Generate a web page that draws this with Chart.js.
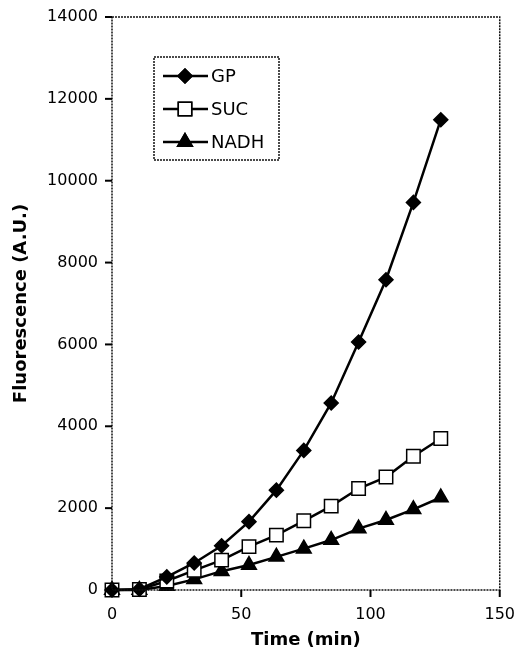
<!DOCTYPE html>
<html>
<head>
<meta charset="utf-8">
<script src="https://cdn.jsdelivr.net/npm/chart.js@4/dist/chart.umd.min.js"></script>
<style>
  html, body { margin: 0; padding: 0; background: #fff; }
  #wrap { width: 523px; height: 652px; }
</style>
</head>
<body>
<div id="wrap"><canvas id="chart" width="523" height="652"></canvas></div>
<script>
// values
const times = [0, 10.6, 21.2, 31.8, 42.4, 53, 63.6, 74.2, 84.8, 95.4, 106, 116.6, 127.2];
const gp = [0, 20, 320, 660, 1080, 1670, 2440, 3410, 4570, 6060, 7580, 9470, 11490];
const suc = [0, 10, 220, 480, 730, 1060, 1340, 1690, 2050, 2480, 2760, 3270, 3700];
const nadh = [0, 0, 100, 260, 460, 610, 810, 1010, 1220, 1500, 1710, 1970, 2260];
const seriesNames = ["GP", "SUC", "NADH"];

const xTicks = [0, 50, 100, 150];
const yTicks = [0, 2000, 4000, 6000, 8000, 10000, 12000, 14000];

const toPoints = (vals) => vals.map((v, i) => ({ x: times[i], y: v }));

const styles = [
  { pointStyle: 'rectRot', pointRadius: 7, pointBackgroundColor: '#000' },
  { pointStyle: 'rect', pointRadius: 9.5, pointBackgroundColor: '#fff' },
  { pointStyle: 'triangle', pointRadius: 8.5, pointBackgroundColor: '#000' }
];

const datasets = [gp, suc, nadh].map((vals, i) => ({
  label: seriesNames[i],
  data: toPoints(vals),
  showLine: true,
  borderColor: '#000',
  borderWidth: 2.5,
  tension: 0,
  pointBorderColor: '#000',
  pointBorderWidth: 1.5,
  clip: false,
  order: i + 1,
  ...styles[i]
}));

// frame, tick marks and the boxed legend
const framePlugin = {
  id: 'frame',
  afterDraw(chart) {
    const { ctx, chartArea: a, scales } = chart;
    ctx.save();
    ctx.strokeStyle = '#111';
    ctx.lineWidth = 1.5;
    ctx.setLineDash([2, 1]);
    ctx.strokeRect(a.left, a.top, a.right - a.left, a.bottom - a.top);

    // outward tick marks
    ctx.setLineDash([]);
    ctx.strokeStyle = '#000';
    ctx.lineWidth = 2;
    scales.y.ticks.forEach(t => {
      const y = scales.y.getPixelForValue(t.value);
      ctx.beginPath();
      ctx.moveTo(a.left - 7, y);
      ctx.lineTo(a.left, y);
      ctx.stroke();
    });
    scales.x.ticks.forEach(t => {
      const x = scales.x.getPixelForValue(t.value);
      ctx.beginPath();
      ctx.moveTo(x, a.bottom);
      ctx.lineTo(x, a.bottom + 7);
      ctx.stroke();
    });

    // legend box
    const bx = a.left + 42, by = a.top + 40, bw = 125, bh = 103;
    ctx.lineWidth = 1.5;
    ctx.setLineDash([2, 1]);
    ctx.fillStyle = '#fff';
    ctx.fillRect(bx, by, bw, bh);
    ctx.strokeStyle = '#111';
    ctx.strokeRect(bx, by, bw, bh);
    ctx.setLineDash([]);

    chart.data.datasets.forEach((ds, i) => {
      const y = by + 19 + i * 33;
      ctx.strokeStyle = '#000';
      ctx.lineWidth = 2.5;
      ctx.beginPath();
      ctx.moveTo(bx + 9, y);
      ctx.lineTo(bx + 54, y);
      ctx.stroke();
      ctx.fillStyle = ds.pointBackgroundColor;
      ctx.lineWidth = 1.5;
      Chart.helpers.drawPoint(ctx, { pointStyle: ds.pointStyle, radius: ds.pointRadius, borderWidth: 1.5 }, bx + 31, y);
      ctx.fill();
      ctx.stroke();
      ctx.fillStyle = '#000';
      ctx.font = '18px "DejaVu Sans"';
      ctx.textAlign = 'left';
      ctx.textBaseline = 'middle';
      ctx.fillText(ds.label, bx + 57, y + 1);
    });
    ctx.restore();
  }
};

const tickFont = { family: 'DejaVu Sans', size: 16 };
const titleFont = { family: 'DejaVu Sans', size: 18, weight: 'bold' };

new Chart(document.getElementById('chart'), {
  type: 'scatter',
  data: { datasets: datasets },
  plugins: [framePlugin],
  options: {
    responsive: false,
    animation: false,
    layout: { padding: { left: 5, right: 22, top: 17, bottom: 0 } },
    plugins: {
      legend: { display: false },
      tooltip: { enabled: false }
    },
    scales: {
      x: {
        type: 'linear',
        min: 0,
        max: 150,
        afterBuildTicks: (s) => { s.ticks = xTicks.map(v => ({ value: v })); },
        afterFit: (s) => { s.height = 62; },
        ticks: { color: '#000', font: tickFont, padding: 8, callback: (v) => String(v) },
        grid: { display: false, tickLength: 7 },
        border: { display: false },
        title: { display: true, text: 'Time (min)', color: '#000', font: titleFont, padding: { top: 0, bottom: 1 } }
      },
      y: {
        min: 0,
        max: 14000,
        afterBuildTicks: (s) => { s.ticks = yTicks.map(v => ({ value: v })); },
        afterFit: (s) => { s.width = 107; },
        ticks: { color: '#000', font: tickFont, padding: 7, callback: (v) => String(v) },
        grid: { display: false, tickLength: 7 },
        border: { display: false },
        title: { display: true, text: 'Fluorescence (A.U.)', color: '#000', font: titleFont, padding: { top: 6, bottom: 0 } }
      }
    }
  }
});
</script>
</body>
</html>
